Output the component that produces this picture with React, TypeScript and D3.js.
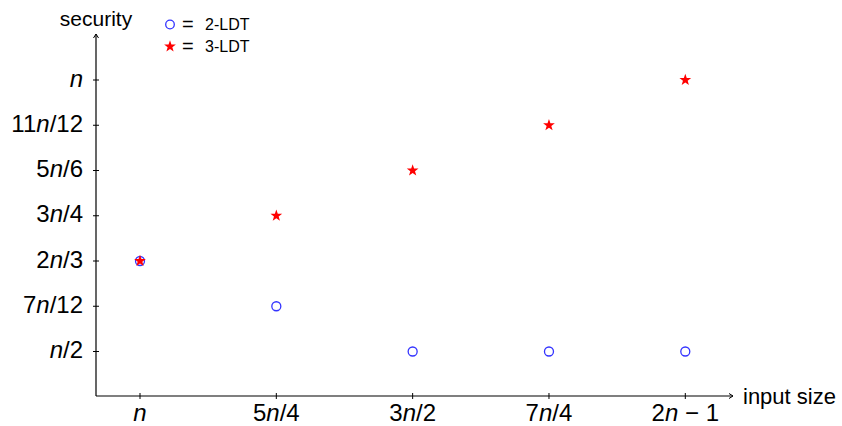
import { useEffect, useRef } from "react";
import * as d3 from "d3";

// x positions are category indices, y values in twelfths of n
const xLabels = ["n", "5n/4", "3n/2", "7n/4", "2n\u22121"];
const yTicks = [6, 7, 8, 9, 10, 11, 12];
const yLabels = ["n/2", "7n/12", "2n/3", "3n/4", "5n/6", "11n/12", "n"];
const ldt2 = [8, 7, 6, 6, 6];
const ldt3 = [8, 9, 10, 11, 12];

const FONT = "'Liberation Sans', Arial, sans-serif";

// splits "5n/4" into parts with italic n
function mathText(sel, label) {
  const parts = label.split("n");
  parts.forEach((p, i) => {
    if (p) sel.append("tspan").text(p.replace("\u2212", " \u2212 "));
    if (i < parts.length - 1) sel.append("tspan").attr("font-style", "italic").text("n");
  });
}

// thin five-pointed star, like the tikz/pgf one
const thinStar = {
  draw(ctx, size) {
    const r = Math.sqrt(size);
    const ri = r * 0.4;
    for (let k = 0; k < 10; k++) {
      const a = (k * Math.PI) / 5;
      const rr = k % 2 ? ri : r;
      const px = Math.sin(a) * rr;
      const py = -Math.cos(a) * rr;
      if (k === 0) ctx.moveTo(px, py);
      else ctx.lineTo(px, py);
    }
    ctx.closePath();
  },
};

export default function App() {
  const ref = useRef(null);

  useEffect(() => {
    const svg = d3.select(ref.current);
    svg.selectAll("*").remove();

    const ox = 96;
    const oy = 396;
    const x = d3.scaleLinear().domain([0, 4]).range([140, 685.3]);
    const y = d3.scaleLinear().domain([6, 12]).range([351.5, 80]);

    const g = svg.append("g").attr("font-family", FONT).attr("fill", "#000");

    // axes with arrow heads
    g.append("line").attr("x1", ox).attr("y1", oy).attr("x2", 733).attr("y2", oy).attr("stroke", "#000").attr("stroke-width", 1.2);
    g.append("line").attr("x1", ox).attr("y1", oy).attr("x2", ox).attr("y2", 34).attr("stroke", "#000").attr("stroke-width", 1.2);
    g.append("path").attr("d", `M729,${oy - 2.5} L733,${oy} L729,${oy + 2.5}`).attr("fill", "none").attr("stroke", "#000").attr("stroke-width", 1);
    g.append("path").attr("d", `M${ox - 2.5},38 L${ox},34 L${ox + 2.5},38`).attr("fill", "none").attr("stroke", "#000").attr("stroke-width", 1);

    // x ticks
    xLabels.forEach((lab, i) => {
      g.append("line").attr("x1", x(i)).attr("x2", x(i)).attr("y1", oy - 3).attr("y2", oy + 3).attr("stroke", "#000");
      const t = g.append("text").attr("x", x(i)).attr("y", 421).attr("text-anchor", "middle").attr("font-size", 24);
      mathText(t, lab);
    });

    // y ticks
    yTicks.forEach((v, i) => {
      g.append("line").attr("x1", ox - 3).attr("x2", ox + 3).attr("y1", y(v)).attr("y2", y(v)).attr("stroke", "#000");
      const t = g.append("text").attr("x", 83).attr("y", y(v) + 6.5).attr("text-anchor", "end").attr("font-size", 24);
      mathText(t, yLabels[i]);
    });

    g.append("text").attr("x", 96).attr("y", 26).attr("text-anchor", "middle").attr("font-size", 21).text("security");
    g.append("text").attr("x", 743).attr("y", 404).attr("font-size", 22).text("input size");

    const star = d3.symbol().type(thinStar).size(38);

    g.append("g")
      .selectAll("circle")
      .data(ldt2)
      .join("circle")
      .attr("cx", (d, i) => x(i))
      .attr("cy", (d) => y(d))
      .attr("r", 4.5)
      .attr("fill", "none")
      .attr("stroke", "#3333ff")
      .attr("stroke-width", 1.3);

    g.append("g")
      .selectAll("path")
      .data(ldt3)
      .join("path")
      .attr("d", star)
      .attr("transform", (d, i) => `translate(${x(i)},${y(d)})`)
      .attr("fill", "#ff0000");

    // legend
    const leg = g.append("g");
    leg.append("circle").attr("cx", 170).attr("cy", 24.5).attr("r", 4.3).attr("fill", "none").attr("stroke", "#3333ff").attr("stroke-width", 1.3);
    leg.append("text").attr("x", 182).attr("y", 30.5).attr("font-size", 20).text("=");
    leg.append("text").attr("x", 205).attr("y", 30).attr("font-size", 16).text("2-LDT");
    leg.append("path").attr("d", star).attr("transform", "translate(170,46.5)").attr("fill", "#ff0000");
    leg.append("text").attr("x", 182).attr("y", 52.5).attr("font-size", 20).text("=");
    leg.append("text").attr("x", 205).attr("y", 52).attr("font-size", 16).text("3-LDT");
  }, []);

  return (
    <svg
      ref={ref}
      width={842}
      height={426}
      style={{ position: "absolute", left: 0, top: 0, background: "#fff" }}
    />
  );
}
